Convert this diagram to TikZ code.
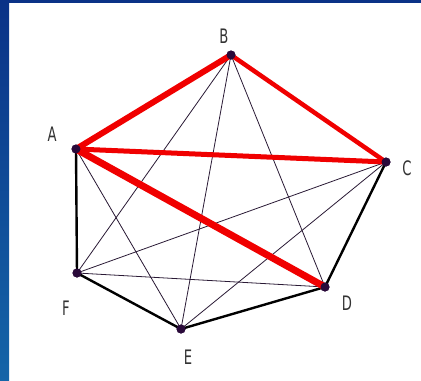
\documentclass[tikz,border=0pt]{standalone}
\usepackage{fontspec}
\newfontfamily\lblfont{DejaVu Sans}
\definecolor{bgtop}{HTML}{0A3287}
\definecolor{bgbot}{HTML}{1565A8}
\definecolor{dotc}{HTML}{2A0A3A}
\definecolor{thinc}{HTML}{2A1A35}
\definecolor{redc}{HTML}{F00000}
\tikzset{
  vtx/.style={circle,fill=dotc,inner sep=0pt,minimum size=9bp},
  lbl/.style={font=\lblfont\fontsize{20}{20}\selectfont,text=black!80,inner sep=0pt,xscale=0.66},
  thinedge/.style={draw=thinc,line width=0.8bp},
  blackedge/.style={draw=black,line width=2.4bp},
  rededge/.style={draw=redc,line width=#1},
}
\begin{document}
\begin{tikzpicture}[x=1bp,y=-1bp]
\useasboundingbox (0,0) rectangle (421,381);
\fill[white] (0,0) rectangle (421,381);
\shade[top color=bgtop,bottom color=bgbot] (0,0) rectangle (9,381);
\fill[bgtop] (0,0) rectangle (421,3);
\node[vtx] (A) at (76,149) {};
\node[vtx] (B) at (231,55) {};
\node[vtx] (C) at (386,162) {};
\node[vtx] (D) at (325,287) {};
\node[vtx] (E) at (181,329) {};
\node[vtx] (F) at (77,273) {};
\node[lbl] (lA) at (52,134) {A};
\node[lbl] (lB) at (224,36) {B};
\node[lbl] (lC) at (407,168) {C};
\node[lbl] (lD) at (347,303) {D};
\node[lbl] (lE) at (188,357) {E};
\node[lbl] (lF) at (66,308) {F};
\draw[thinedge] (A.center) -- (E.center);
\draw[thinedge] (B.center) -- (F.center);
\draw[thinedge] (B.center) -- (E.center);
\draw[thinedge] (B.center) -- (D.center);
\draw[thinedge] (C.center) -- (F.center);
\draw[thinedge] (C.center) -- (E.center);
\draw[thinedge] (D.center) -- (F.center);
\draw[blackedge] (A.center) -- (F.center);
\draw[blackedge] (F.center) -- (E.center);
\draw[blackedge] (E.center) -- (D.center);
\draw[blackedge] (D.center) -- (C.center);
\draw[rededge=6bp] (A.center) -- (B.center);
\draw[rededge=4.5bp] (B.center) -- (C.center);
\draw[rededge=5bp] (A.center) -- (C.center);
\draw[rededge=7bp] (A.center) -- (D.center);
\foreach \v in {A,B,C,D,E,F} \fill[dotc] (\v) circle (4.5bp);
\end{tikzpicture}
\end{document}
